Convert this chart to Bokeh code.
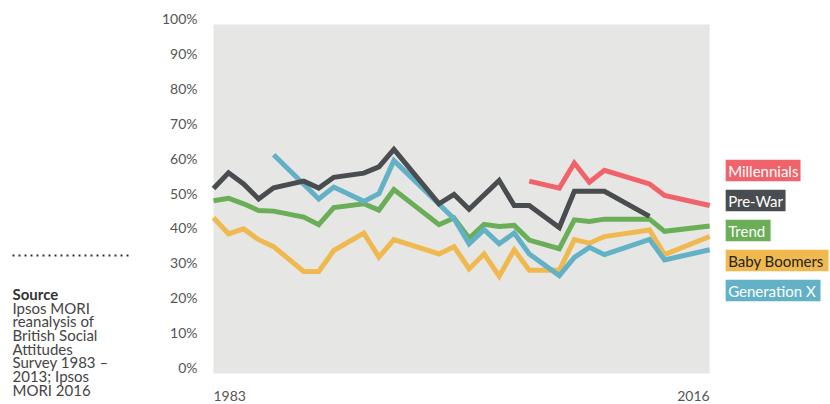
from bokeh.plotting import figure
from bokeh.layouts import row
from bokeh.models import Range1d, FixedTicker, PrintfTickFormatter, BoxAnnotation
from bokeh.core.properties import value
from bokeh.embed import file_html
from bokeh.resources import INLINE

# ---------------- data ----------------
prewar_years = [1983, 1984, 1985, 1986, 1987, 1989, 1990, 1991, 1993, 1994, 1995, 1998, 1999, 2000, 2002, 2003, 2004, 2006, 2007, 2009, 2012]
prewar_vals = [51.3, 55.8, 52.6, 48.3, 51.5, 53.4, 51.4, 54.5, 55.7, 57.5, 62.5, 46.9, 49.6, 45.3, 53.6, 46.4, 46.4, 40.1, 50.5, 50.5, 43.3]

trend_years = [1983, 1984, 1985, 1986, 1987, 1989, 1990, 1991, 1993, 1994, 1995, 1998, 1999, 2000, 2001, 2002, 2003, 2004, 2006, 2007, 2008, 2009, 2012, 2013, 2016]
trend_vals = [47.8, 48.5, 46.9, 45.0, 44.8, 43.1, 40.9, 45.8, 46.9, 45.1, 51.0, 40.9, 42.8, 37.0, 41.0, 40.4, 40.7, 36.5, 34.0, 42.3, 41.8, 42.5, 42.5, 39.0, 40.5]

genx_years = [1987, 1990, 1991, 1993, 1994, 1995, 1999, 2000, 2001, 2002, 2003, 2004, 2006, 2007, 2008, 2009, 2012, 2013, 2016]
genx_vals = [61.0, 48.3, 51.7, 47.6, 49.8, 59.3, 42.6, 35.4, 39.5, 35.4, 38.5, 32.5, 26.3, 31.5, 34.4, 32.3, 36.7, 30.8, 33.7]

boomer_years = [1983, 1984, 1985, 1986, 1987, 1989, 1990, 1991, 1993, 1994, 1995, 1998, 1999, 2000, 2001, 2002, 2003, 2004, 2006, 2007, 2008, 2009, 2012, 2013, 2016]
boomer_vals = [42.9, 38.3, 39.7, 36.6, 34.6, 27.5, 27.5, 33.5, 38.5, 31.6, 36.6, 32.5, 34.6, 28.2, 32.5, 26.1, 33.7, 27.8, 27.8, 36.6, 35.6, 37.5, 39.4, 32.3, 37.5]

mill_years = [2004, 2006, 2007, 2008, 2009, 2012, 2013, 2016]
mill_vals = [53.4, 51.4, 58.6, 53.1, 56.5, 52.6, 49.3, 46.4]

legend_names = ["Millennials", "Pre-War", "Trend", "Baby Boomers", "Generation X"]
y_ticks = [0, 10, 20, 30, 40, 50, 60, 70, 80, 90, 100]
x_tick_labels = [1983, 2016]

source_title = "Source"
source_lines = ["Ipsos MORI", "reanalysis of", "British Social", "Attitudes", "Survey 1983 \u2013", "2013; Ipsos", "MORI 2016"]

# ---------------- styles ----------------
RED = "#f0636b"
BLACK = "#4a4d4f"
GREEN = "#6aae58"
YELLOW = "#f0b94f"
BLUE = "#63b1c6"
BG = "#e6e6e5"
FONT = "Lato"
legend_cols = [RED, BLACK, GREEN, YELLOW, BLUE]
legend_text_cols = ["white", "white", "white", "#222222", "white"]
legend_box_w = [75, 60, 45, 103, 95]  # px

# page-pixel -> data helpers (layout only)
PX_YEAR = 15.06
PX_PCT = 3.484
def xd(px):
    return 1983 + (px - 212) / PX_YEAR
def yd(py):
    return (366.7 - py) / PX_PCT

H = 404
LEFT_W = 158      # page 0..158
MAIN_W = 672      # page 158..830

# ---------- left panel: separator and source ----------
left = figure(width=LEFT_W, height=H, output_backend="svg", toolbar_location=None,
              x_range=Range1d(0, LEFT_W), y_range=Range1d(H, 0),
              x_axis_location=None, y_axis_location=None,
              min_border_left=0, min_border_right=0, min_border_top=0, min_border_bottom=0)
left.outline_line_color = None
left.xgrid.visible = False
left.ygrid.visible = False
left.line([12, 130], [252, 252], line_color="#333333", line_width=2, line_dash="2 4")
left.text(x=[12], y=[291.5], text=[source_title], text_align="left", text_baseline="middle",
          text_font=value(FONT), text_font_size="15px", text_font_style="bold", text_color="#333333")
left.text(x=[12] * len(source_lines), y=[291.5 + 13.9 * (i + 1) for i in range(len(source_lines))],
          text=source_lines, text_align="left", text_baseline="middle",
          text_font=value(FONT), text_font_size="15px", text_color="#444444")

# ---------- main chart ----------
frame_left_page = 209
p = figure(width=MAIN_W, height=H, output_backend="svg", toolbar_location=None,
           x_range=Range1d(xd(frame_left_page), xd(830)), y_range=Range1d(yd(404), yd(8)),
           x_axis_location=None, y_axis_location="left",
           min_border_left=frame_left_page - LEFT_W, min_border_right=0, min_border_top=8, min_border_bottom=0)
p.outline_line_color = None
p.background_fill_color = "white"
p.border_fill_color = "white"
p.xgrid.visible = False
p.ygrid.visible = False

ax = p.yaxis[0]
ax.ticker = FixedTicker(ticks=y_ticks)
ax.formatter = PrintfTickFormatter(format="%d%%")
ax.axis_line_color = None
ax.major_tick_line_color = None
ax.minor_tick_line_color = None
ax.major_tick_out = 0
ax.major_tick_in = 0
ax.major_label_standoff = 13
ax.major_label_text_font = FONT
ax.major_label_text_font_size = "14px"
ax.major_label_text_color = "#555555"

p.add_layout(BoxAnnotation(left=1983, right=2016, top=yd(24), bottom=yd(373), fill_color=BG,
                           fill_alpha=1, line_color=None, level="underlay"))

for yrs, vals, col in [(boomer_years, boomer_vals, YELLOW), (trend_years, trend_vals, GREEN),
                       (genx_years, genx_vals, BLUE), (prewar_years, prewar_vals, BLACK),
                       (mill_years, mill_vals, RED)]:
    p.line(yrs, vals, line_width=5, line_color=col, line_join="miter")

# x labels
p.text(x=[x_tick_labels[0]], y=[yd(395)], text=[str(x_tick_labels[0])], text_align="left",
       text_baseline="middle", text_font=value(FONT), text_font_size="14px", text_color="#555555")
p.text(x=[x_tick_labels[1]], y=[yd(395)], text=[str(x_tick_labels[1])], text_align="right",
       text_baseline="middle", text_font=value(FONT), text_font_size="14px", text_color="#555555")

# legend
centers = [170 + 30 * i for i in range(len(legend_names))]
p.quad(left=[xd(725)] * 5, right=[xd(725 + w) for w in legend_box_w],
       top=[yd(c - 10.7) for c in centers], bottom=[yd(c + 10.7) for c in centers],
       fill_color=legend_cols, line_color=None)
p.text(x=[xd(727.5)] * 5, y=[yd(c) for c in centers], text=legend_names, text_color=legend_text_cols,
       text_align="left", text_baseline="middle", text_font=value(FONT), text_font_size="15px")

layout = row(left, p)
open("out.html", "w").write(file_html(layout, INLINE))
